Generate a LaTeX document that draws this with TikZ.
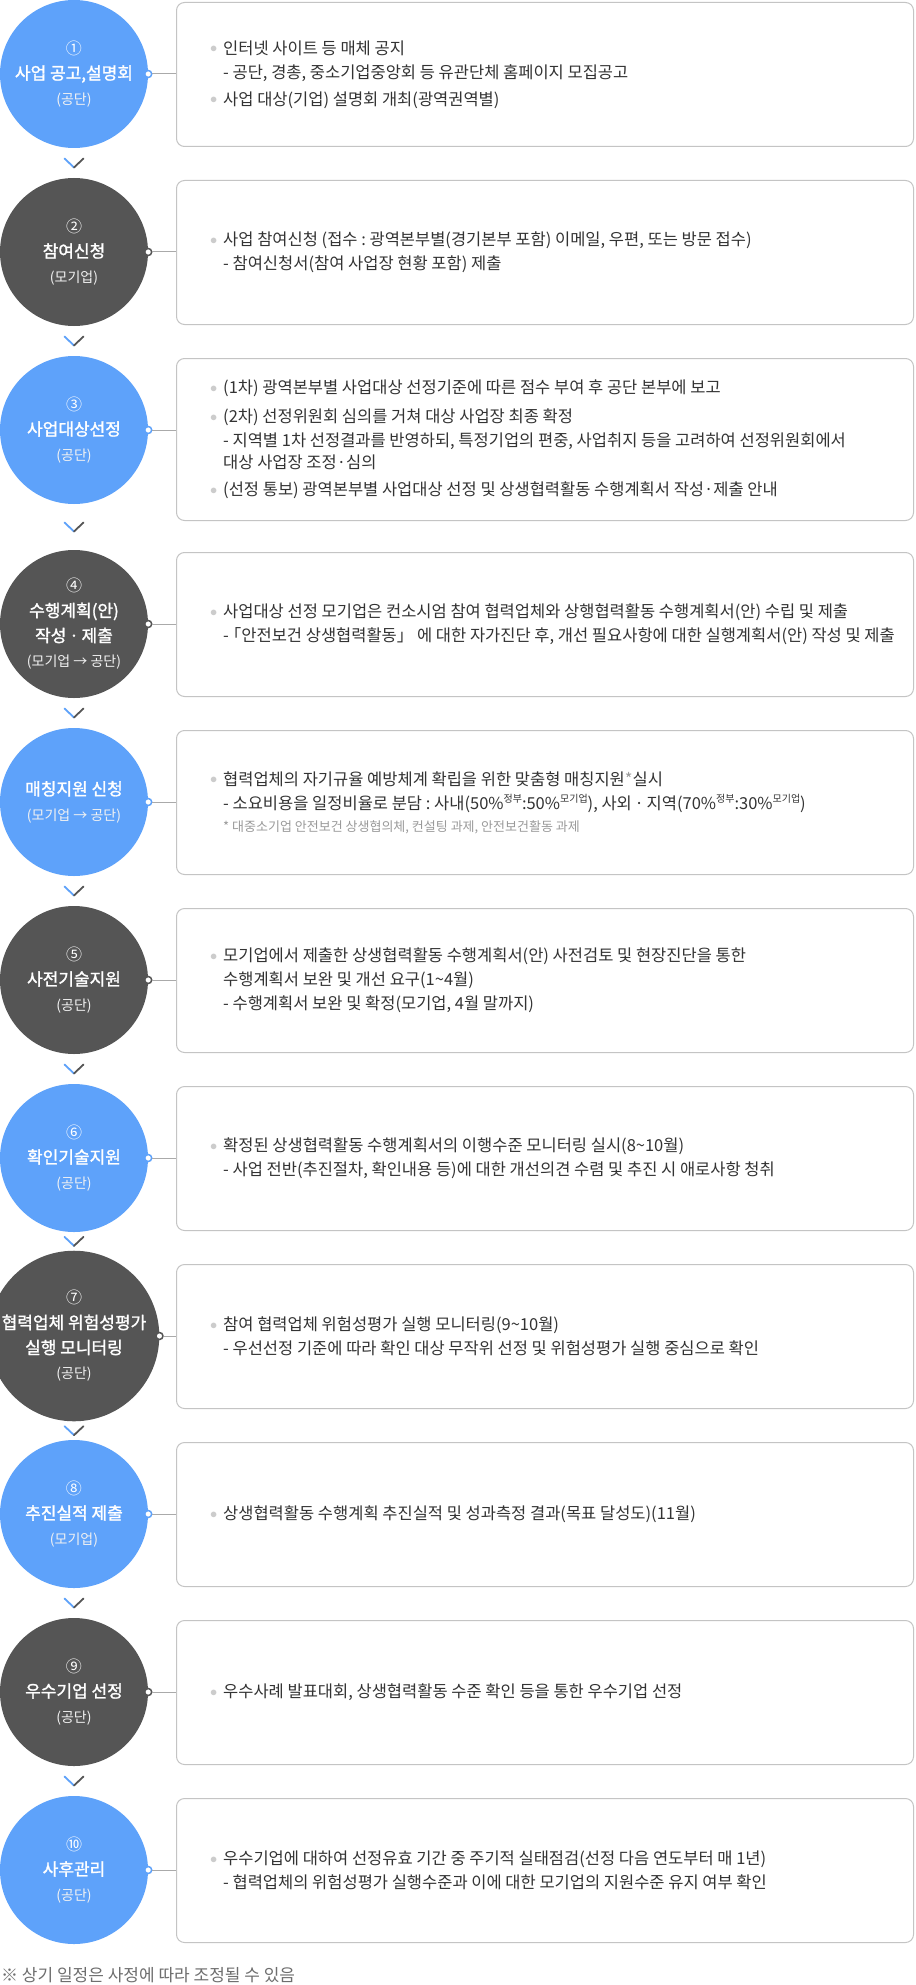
\documentclass[tikz,border=0pt]{standalone}
\usepackage{fontspec}
\setmainfont{Noto Sans CJK KR}
\newfontfamily\titlefont{Noto Sans CJK KR}[FakeBold=1.5]
\usetikzlibrary{calc}
\definecolor{stepblue}{HTML}{5EA2FA}
\definecolor{stepdark}{HTML}{555555}
\definecolor{boxline}{HTML}{C4C4C4}
\definecolor{linkgray}{HTML}{AAAAAA}
\definecolor{textdark}{HTML}{333333}
\definecolor{dotgray}{HTML}{CCCCCC}
\definecolor{notegray}{HTML}{9A9A9A}
\definecolor{footgray}{HTML}{6E6E6E}
\newcommand\bul{\makebox[13pt][l]{\textcolor{dotgray}{\raisebox{1.5pt}{\fontsize{15}{15}\selectfont$\bullet$}}}}
\newcommand\indt{\hspace*{13pt}}
\newcommand\sps[1]{\raisebox{6.5pt}{\fontsize{10}{10}\selectfont #1}}
\newcommand\stepno[1]{{\fontsize{16}{16}\selectfont #1}}
\newcommand\steptitle[1]{{\titlefont #1}}
\newcommand\stepwho[1]{{\fontsize{14}{14}\selectfont\color{white!90!gray}#1}}
\tikzset{
  flowchev/.pic={
    \draw[draw=stepblue,line width=1.8pt,line cap=round] (-9.5,-4.5) -- (0,4.5);
    \draw[draw=stepdark,line width=1.8pt,line cap=round] (0,4.5) -- (9.5,-4.5);
  }
}
\begin{document}
\frenchspacing
\begin{tikzpicture}[x=1pt,y=-1pt,
  stepnode/.style={circle,minimum size=148pt,inner sep=0pt,text=white,align=center,
    font=\fontsize{17}{25}\selectfont},
  stepa/.style={stepnode,fill=stepblue},
  stepb/.style={stepnode,fill=stepdark},
  infobox/.style={draw=boxline,line width=1pt,rounded corners=8pt,anchor=north west,
    minimum width=737pt,minimum height=144pt,inner sep=0pt},
  infotext/.style={anchor=west,inner sep=0pt,align=left,text=textdark,
    font=\fontsize{16.5}{24}\selectfont},
  portdot/.style={circle,fill=white,draw,line width=1.5pt,minimum size=7pt,inner sep=0pt},
  link/.style={draw=linkgray,line width=1pt}]
  \path[fill=white,use as bounding box] (0,0) rectangle (915,1985);
  % steps
  \node[stepa] (s1) at (74,74) {\stepno{①}\\\steptitle{사업 공고,설명회}\\\stepwho{(공단)}};
  \node[stepb] (s2) at (74,252) {\stepno{②}\\\steptitle{참여신청}\\\stepwho{(모기업)}};
  \node[stepa] (s3) at (74,430) {\stepno{③}\\\steptitle{사업대상선정}\\\stepwho{(공단)}};
  \node[stepb] (s4) at (74,624) {\stepno{④}\\\steptitle{수행계획(안)}\\\steptitle{작성\,·\,제출}\\\stepwho{(모기업 → 공단)}};
  \node[stepa] (s5) at (74,802) {\steptitle{매칭지원 신청}\\\stepwho{(모기업 → 공단)}};
  \node[stepb] (s6) at (74,980) {\stepno{⑤}\\\steptitle{사전기술지원}\\\stepwho{(공단)}};
  \node[stepa] (s7) at (74,1158) {\stepno{⑥}\\\steptitle{확인기술지원}\\\stepwho{(공단)}};
  \node[stepb] (s8) at (74,1336) {\stepno{⑦}\\\steptitle{협력업체 위험성평가}\\\steptitle{실행 모니터링}\\\stepwho{(공단)}};
  \node[stepa] (s9) at (74,1514) {\stepno{⑧}\\\steptitle{추진실적 제출}\\\stepwho{(모기업)}};
  \node[stepb] (s10) at (74,1692) {\stepno{⑨}\\\steptitle{우수기업 선정}\\\stepwho{(공단)}};
  \node[stepa] (s11) at (74,1870) {\stepno{⑩}\\\steptitle{사후관리}\\\stepwho{(공단)}};
  % boxes
  \node[infobox] (b1) at (176,2) {};
  \node[infobox] (b2) at (176,180) {};
  \node[infobox,minimum height=162pt] (b3) at (176,358) {};
  \node[infobox] (b4) at (176,552) {};
  \node[infobox] (b5) at (176,730) {};
  \node[infobox] (b6) at (176,908) {};
  \node[infobox] (b7) at (176,1086) {};
  \node[infobox] (b8) at (176,1264) {};
  \node[infobox] (b9) at (176,1442) {};
  \node[infobox] (b10) at (176,1620) {};
  \node[infobox] (b11) at (176,1798) {};
  % box texts
  \node[infotext] (t1) at ([xshift=34pt]b1.west) {\bul 인터넷 사이트 등 매체 공지\\
    \indt- 공단, 경총, 중소기업중앙회 등 유관단체 홈페이지 모집공고\\[3pt]
    \bul 사업 대상(기업) 설명회 개최(광역권역별)};
  \node[infotext] (t2) at ([xshift=34pt]b2.west) {\bul 사업 참여신청 (접수 : 광역본부별(경기본부 포함) 이메일, 우편, 또는 방문 접수)\\
    \indt- 참여신청서(참여 사업장 현황 포함) 제출};
  \node[infotext] (t3) at ([xshift=34pt]b3.west) {\bul (1차) 광역본부별 사업대상 선정기준에 따른 점수 부여 후 공단 본부에 보고\\[5pt]
    \bul (2차) 선정위원회 심의를 거쳐 대상 사업장 최종 확정\\
    \indt- 지역별 1차 선정결과를 반영하되, 특정기업의 편중, 사업취지 등을 고려하여 선정위원회에서\\[-2pt]
    \indt 대상 사업장 조정·심의\\[3pt]
    \bul (선정 통보) 광역본부별 사업대상 선정 및 상생협력활동 수행계획서 작성·제출 안내};
  \node[infotext] (t4) at ([xshift=34pt]b4.west) {\bul 사업대상 선정 모기업은 컨소시엄 참여 협력업체와 상행협력활동 수행계획서(안) 수립 및 제출\\
    \indt-\hspace{-4pt}「안전보건 상생협력활동」 에 대한 자가진단 후, 개선 필요사항에 대한 실행계획서(안) 작성 및 제출};
  \node[infotext] (t5) at ([xshift=34pt]b5.west) {\bul 협력업체의 자기규율 예방체계 확립을 위한 맞춤형 매칭지원\textcolor{notegray}{*}실시\\
    \indt- 소요비용을 일정비율로 분담 : 사내(50\%\sps{정부}:50\%\sps{모기업}), 사외\,·\,지역(70\%\sps{정부}:30\%\sps{모기업})\\[-2pt]
    \indt{\fontsize{13}{13}\selectfont\color{notegray}* 대중소기업 안전보건 상생협의체, 컨설팅 과제, 안전보건활동 과제}};
  \node[infotext] (t6) at ([xshift=34pt]b6.west) {\bul 모기업에서 제출한 상생협력활동 수행계획서(안) 사전검토 및 현장진단을 통한\\
    \indt 수행계획서 보완 및 개선 요구(1\textasciitilde 4월)\\
    \indt- 수행계획서 보완 및 확정(모기업, 4월 말까지)};
  \node[infotext] (t7) at ([xshift=34pt]b7.west) {\bul 확정된 상생협력활동 수행계획서의 이행수준 모니터링 실시(8\textasciitilde 10월)\\
    \indt- 사업 전반(추진절차, 확인내용 등)에 대한 개선의견 수렴 및 추진 시 애로사항 청취};
  \node[infotext] (t8) at ([xshift=34pt]b8.west) {\bul 참여 협력업체 위험성평가 실행 모니터링(9\textasciitilde 10월)\\
    \indt- 우선선정 기준에 따라 확인 대상 무작위 선정 및 위험성평가 실행 중심으로 확인};
  \node[infotext] (t9) at ([xshift=34pt]b9.west) {\bul 상생협력활동 수행계획 추진실적 및 성과측정 결과(목표 달성도)(11월)};
  \node[infotext] (t10) at ([xshift=34pt]b10.west) {\bul 우수사례 발표대회, 상생협력활동 수준 확인 등을 통한 우수기업 선정};
  \node[infotext] (t11) at ([xshift=34pt]b11.west) {\bul 우수기업에 대하여 선정유효 기간 중 주기적 실태점검(선정 다음 연도부터 매 1년)\\
    \indt- 협력업체의 위험성평가 실행수준과 이에 대한 모기업의 지원수준 유지 여부 확인};
  % ports
  \node[portdot,draw=stepblue] (p1) at (s1.east) {};
  \node[portdot,draw=stepdark] (p2) at (s2.east) {};
  \node[portdot,draw=stepblue] (p3) at (s3.east) {};
  \node[portdot,draw=stepdark] (p4) at (s4.east) {};
  \node[portdot,draw=stepblue] (p5) at (s5.east) {};
  \node[portdot,draw=stepdark] (p6) at (s6.east) {};
  \node[portdot,draw=stepblue] (p7) at (s7.east) {};
  \node[portdot,draw=stepdark] (p8) at (s8.east) {};
  \node[portdot,draw=stepblue] (p9) at (s9.east) {};
  \node[portdot,draw=stepdark] (p10) at (s10.east) {};
  \node[portdot,draw=stepblue] (p11) at (s11.east) {};
  \begin{scope}[link]
    \draw (p1) -- (p1 -| b1.west);
    \draw (p2) -- (p2 -| b2.west);
    \draw (p3) -- (p3 -| b3.west);
    \draw (p4) -- (p4 -| b4.west);
    \draw (p5) -- (p5 -| b5.west);
    \draw (p6) -- (p6 -| b6.west);
    \draw (p7) -- (p7 -| b7.west);
    \draw (p8) -- (p8 -| b8.west);
    \draw (p9) -- (p9 -| b9.west);
    \draw (p10) -- (p10 -| b10.west);
    \draw (p11) -- (p11 -| b11.west);
  \end{scope}
  % chevrons between steps
  \pic at ($(s1.south)!0.5!(s2.north)$) {flowchev};
  \pic at ($(s2.south)!0.5!(s3.north)$) {flowchev};
  \pic at ($(s3.south)!0.5!(s4.north)$) {flowchev};
  \pic at ($(s4.south)!0.5!(s5.north)$) {flowchev};
  \pic at ($(s5.south)!0.5!(s6.north)$) {flowchev};
  \pic at ($(s6.south)!0.5!(s7.north)$) {flowchev};
  \pic at ($(s7.south)!0.5!(s8.north)$) {flowchev};
  \pic at ($(s8.south)!0.5!(s9.north)$) {flowchev};
  \pic at ($(s9.south)!0.5!(s10.north)$) {flowchev};
  \pic at ($(s10.south)!0.5!(s11.north)$) {flowchev};
  \node[anchor=base west,inner sep=0pt,text=footgray,font=\fontsize{17}{17}\selectfont] (note) at (1,1981) {※ 상기 일정은 사정에 따라 조정될 수 있음};
\end{tikzpicture}
\end{document}
